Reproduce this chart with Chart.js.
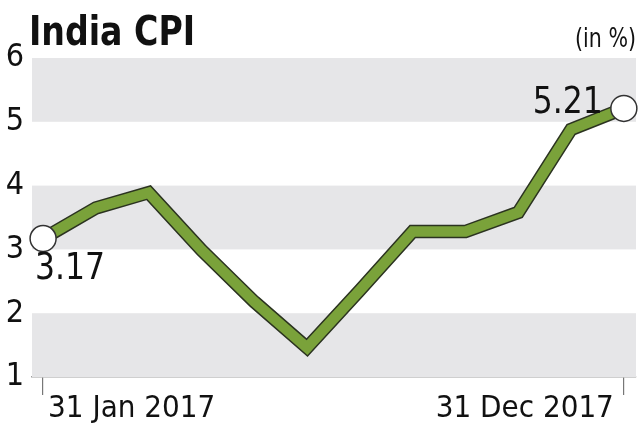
<!DOCTYPE html>
<html>
<head>
<meta charset="utf-8">
<script src="https://cdn.jsdelivr.net/npm/chart.js@4/dist/chart.umd.min.js"></script>
<style>
  html, body { margin: 0; padding: 0; background: #fff; overflow: hidden; }
  #wrap { position: relative; width: 640px; height: 427px; }
  canvas { display: block; }
</style>
</head>
<body>
<div id="wrap"><canvas id="cpi" width="640" height="427"></canvas></div>
<script>
const months = ['31 Jan 2017', 'Feb', 'Mar', 'Apr', 'May', 'Jun', 'Jul', 'Aug', 'Sep', 'Oct', 'Nov', '31 Dec 2017'];
const cpiValues = [3.17, 3.65, 3.89, 2.99, 2.18, 1.46, 2.36, 3.28, 3.28, 3.58, 4.88, 5.21];
const yTicks = [1, 2, 3, 4, 5, 6];
const bandRanges = [[1, 2], [3, 4], [5, 6]];

const FONT = '"DejaVu Sans Condensed", "Liberation Sans", sans-serif';
const points = cpiValues.map((v, i) => ({ x: i, y: v }));

// draw text squeezed horizontally, like the narrow newspaper font
function narrowText(ctx, text, x, y, align, sx) {
    ctx.save();
    ctx.translate(x, y);
    ctx.scale(sx, 1);
    ctx.textAlign = align;
    ctx.fillText(text, 0, 0);
    ctx.restore();
}

const decor = {
    id: 'decor',
    beforeDatasetsDraw(chart) {
        const { ctx, chartArea, scales } = chart;
        ctx.save();
        ctx.fillStyle = '#e6e6e8';
        bandRanges.forEach(r => {
            const top = scales.y.getPixelForValue(r[1]);
            const bot = scales.y.getPixelForValue(r[0]);
            ctx.fillRect(chartArea.left, top, chartArea.right - chartArea.left, bot - top);
        });
        ctx.restore();
    },
    afterDraw(chart) {
        const { ctx, scales } = chart;
        ctx.save();
        ctx.fillStyle = '#111';
        ctx.textBaseline = 'alphabetic';
        ctx.font = 'bold 41px ' + FONT;
        narrowText(ctx, 'India CPI', 29, 45, 'left', 0.9);
        ctx.font = '26px ' + FONT;
        narrowText(ctx, '(in %)', 636, 47, 'right', 0.88);

        const xl = scales.x.getPixelForValue(0);
        const xr = scales.x.getPixelForValue(months.length - 1);
        ctx.font = '31px ' + FONT;
        narrowText(ctx, months[0], xl + 5, 417, 'left', 1);
        narrowText(ctx, months[months.length - 1], xr - 10, 417, 'right', 1);

        ctx.font = '38px ' + FONT;
        const first = cpiValues[0], last = cpiValues[cpiValues.length - 1];
        narrowText(ctx, first.toFixed(2), xl - 8, scales.y.getPixelForValue(first) + 40, 'left', 0.92);
        narrowText(ctx, last.toFixed(2), xr - 21, scales.y.getPixelForValue(last) + 5, 'right', 0.92);
        ctx.restore();
    }
};

new Chart(document.getElementById('cpi'), {
    type: 'line',
    data: {
        datasets: [{
            data: points,
            order: 2,
            borderColor: '#2b3320',
            borderWidth: 13.5,
            borderJoinStyle: 'miter',
            pointRadius: 0,
            tension: 0,
            clip: false
        }, {
            data: points,
            order: 1,
            borderColor: '#7aa23a',
            borderWidth: 10.5,
            borderJoinStyle: 'miter',
            pointRadius: points.map((p, i) => (i === 0 || i === points.length - 1) ? 13 : 0),
            pointBackgroundColor: '#fff',
            pointBorderColor: '#333',
            pointBorderWidth: 1.5,
            tension: 0,
            clip: false
        }]
    },
    options: {
        responsive: false,
        animation: false,
        events: [],
        layout: { autoPadding: false, padding: { top: 58, right: 4, left: 0, bottom: 0 } },
        plugins: { legend: { display: false }, tooltip: { enabled: false } },
        scales: {
            x: {
                type: 'linear',
                min: -0.21,
                max: 11.23,
                afterBuildTicks(axis) { axis.ticks = [{ value: 0 }, { value: 11 }]; },
                afterFit(axis) { axis.height = 50; },
                ticks: { display: false },
                grid: { drawOnChartArea: false, drawTicks: true, tickLength: 18, color: '#777', lineWidth: 1.2 },
                border: { display: true, color: '#a0a0a0', width: 1.5 }
            },
            y: {
                min: 1,
                max: 6,
                afterBuildTicks(axis) { axis.ticks = yTicks.map(v => ({ value: v })); },
                afterFit(axis) { axis.width = 32; },
                ticks: { color: '#111', font: { family: FONT, size: 32 }, padding: 0 },
                grid: { display: false },
                border: { display: false }
            }
        }
    },
    plugins: [decor]
});
</script>
</body>
</html>
